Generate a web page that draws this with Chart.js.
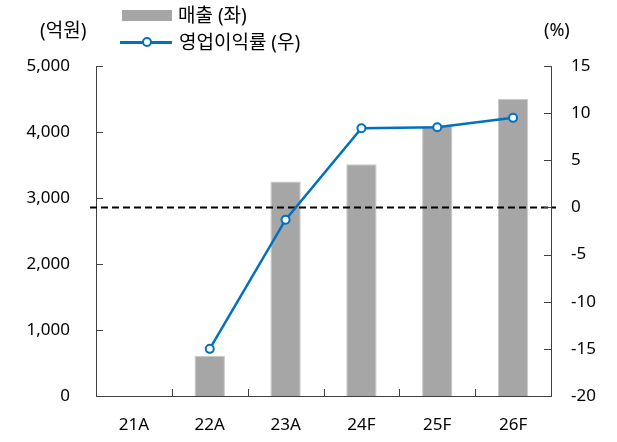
<!DOCTYPE html>
<html>
<head>
<meta charset="utf-8">
<script src="https://cdn.jsdelivr.net/npm/chart.js@4"></script>
<style>
  body { margin: 0; background: #fff; }
  #wrap { position: relative; width: 617px; height: 442px; font-family: "Noto Sans", "Noto Sans CJK KR", sans-serif; color: #000; }
  .lbl { position: absolute; font-size: 17px; line-height: 20px; white-space: nowrap; }
  .kr { font-size: 19px; line-height: 22px; }
  #swatchBar { position: absolute; left: 122px; top: 10px; width: 50px; height: 11px; background: #a6a6a6; }
  #swatchLine { position: absolute; left: 120px; top: 41px; width: 52px; height: 2.5px; background: #0070c0; }
  #swatchDot { position: absolute; left: 142px; top: 37px; width: 6px; height: 6px; border: 2px solid #0070c0; border-radius: 50%; background: #fff; }
</style>
</head>
<body>
<div id="wrap">
  <canvas id="chart" width="617" height="442"></canvas>
  <div class="lbl kr" style="left:40px; top:19px;">(억원)</div>
  <div class="lbl" style="left:544px; top:19px; font-size:18px;">(%)</div>
  <div id="swatchBar"></div>
  <div class="lbl kr" id="legSales" style="left:178px; top:4px;"></div>
  <div id="swatchLine"></div>
  <div id="swatchDot"></div>
  <div class="lbl kr" id="legOpm" style="left:179px; top:31px;"></div>
</div>
<script>
// ---- DATA ----
const categories = ["21A", "22A", "23A", "24F", "25F", "26F"];
const sales = [null, 610, 3250, 3510, 4090, 4500];      // 매출 (억원)
const opMargin = [null, -15.0, -1.3, 8.4, 8.5, 9.5];     // 영업이익률 (%)
const salesLabel = "매출 (좌)";
const marginLabel = "영업이익률 (우)";

document.getElementById("legSales").textContent = salesLabel;
document.getElementById("legOpm").textContent = marginLabel;

const FONT = { family: '"Noto Sans", "Noto Sans CJK KR", sans-serif', size: 17 };
const AXIS_COLOR = "#404040";

// inward tick marks + dashed zero line
const axisExtras = {
  id: "axisExtras",
  afterDatasetDraw(chart, args) {
    if (args.index !== 0) return;
    const y1 = chart.scales.y1;
    const area = chart.chartArea;
    const ctx = chart.ctx;
    const zy = y1.getPixelForValue(0);
    ctx.save();
    ctx.strokeStyle = "#000";
    ctx.lineWidth = 2;
    ctx.setLineDash([7, 4]);
    ctx.beginPath();
    ctx.moveTo(area.left - 6, zy);
    ctx.lineTo(area.right + 5, zy);
    ctx.stroke();
    ctx.restore();
  },
  afterDraw(chart) {
    const { x, y, y1 } = chart.scales;
    const area = chart.chartArea;
    const ctx = chart.ctx;
    ctx.save();
    ctx.strokeStyle = AXIS_COLOR;
    ctx.lineWidth = 1;
    ctx.beginPath();
    y.ticks.forEach((t, i) => {
      const py = Math.round(y.getPixelForTick(i)) + 0.5;
      ctx.moveTo(area.left, py);
      ctx.lineTo(area.left + 7, py);
    });
    y1.ticks.forEach((t, i) => {
      const py = Math.round(y1.getPixelForTick(i)) + 0.5;
      ctx.moveTo(area.right, py);
      ctx.lineTo(area.right - 7, py);
    });
    const step = (area.right - area.left) / categories.length;
    for (let i = 0; i <= categories.length; i++) {
      const px = Math.round(x.getPixelForValue(i) - step / 2) + 0.5;
      ctx.moveTo(px, area.bottom);
      ctx.lineTo(px, area.bottom - 7);
    }
    ctx.stroke();
    ctx.restore();
  }
};

new Chart(document.getElementById("chart"), {
  type: "bar",
  data: {
    labels: categories,
    datasets: [
      {
        type: "bar",
        label: salesLabel,
        data: sales,
        backgroundColor: "#a6a6a6",
        borderColor: "#c8c8c8",
        borderWidth: { left: 1, right: 1, top: 1, bottom: 0 },
        barPercentage: 0.4,
        categoryPercentage: 1.0,
        yAxisID: "y",
        order: 2
      },
      {
        type: "line",
        label: marginLabel,
        data: opMargin,
        borderColor: "#0070c0",
        borderWidth: 2.5,
        pointRadius: 4,
        pointBorderWidth: 2,
        pointBackgroundColor: "#fff",
        pointBorderColor: "#0070c0",
        tension: 0,
        yAxisID: "y1",
        order: 1
      }
    ]
  },
  options: {
    responsive: false,
    animation: false,
    devicePixelRatio: 1,
    layout: { padding: { top: 66, left: 0, right: 0, bottom: 0 } },
    plugins: {
      legend: { display: false },
      tooltip: { enabled: false }
    },
    scales: {
      x: {
        grid: { display: false, drawTicks: false },
        border: { display: true, color: AXIS_COLOR, width: 1 },
        ticks: { color: "#000", font: FONT, padding: 19, maxRotation: 0 },
        afterFit(scale) { scale.height = 46; }
      },
      y: {
        position: "left",
        min: 0,
        max: 5000,
        grid: { display: false, drawTicks: false },
        border: { display: true, color: AXIS_COLOR, width: 1 },
        ticks: {
          stepSize: 1000,
          color: "#000",
          font: FONT,
          padding: 26,
          callback: v => v.toLocaleString("en-US")
        },
        afterFit(scale) { scale.width = 96; }
      },
      y1: {
        position: "right",
        min: -20,
        max: 15,
        grid: { display: false, drawTicks: false },
        border: { display: true, color: AXIS_COLOR, width: 1 },
        ticks: { stepSize: 5, color: "#000", font: FONT, padding: 20 },
        afterFit(scale) { scale.width = 66; }
      }
    }
  },
  plugins: [axisExtras]
});
</script>
</body>
</html>
